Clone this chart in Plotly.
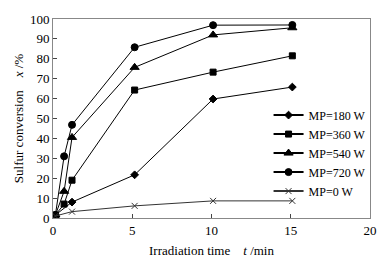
import plotly.graph_objects as go

t_full = [0.15, 0.7, 1.2, 5.15, 10.1, 15.1]
t_short = [0.15, 1.2, 5.15, 10.1, 15.1]

mp180 = [1.5, 8.0, 21.7, 59.8, 65.8]
mp360 = [1.5, 7.0, 19.0, 64.3, 73.3, 81.5]
mp540 = [1.5, 13.4, 40.5, 75.7, 92.0, 95.6]
mp720 = [1.5, 31.0, 46.8, 85.8, 96.9, 97.0]
mp0 = [1.0, 3.2, 6.1, 8.6, 8.6]

series = [
    ("MP=180 W", t_short, mp180, "diamond", 6, "black"),
    ("MP=360 W", t_full, mp360, "square", 6, "black"),
    ("MP=540 W", t_full, mp540, "triangle-up", 8, "black"),
    ("MP=720 W", t_full, mp720, "circle", 7, "black"),
    ("MP=0 W", t_short, mp0, "x-thin-open", 6, "#333333"),
]

FAM = "Liberation Serif, Times New Roman, serif"

fig = go.Figure()
for name, xs, ys, sym, size, col in series:
    fig.add_trace(go.Scatter(
        x=xs, y=ys, name=name, mode="lines+markers", showlegend=False,
        line=dict(color=col, width=1),
        marker=dict(symbol=sym, size=size, color=col, line=dict(color=col, width=1)),
    ))
for name, xs, ys, sym, size, col in series:
    fig.add_trace(go.Scatter(
        x=[None], y=[None], name=name, mode="lines+markers",
        line=dict(color=col, width=2),
        marker=dict(symbol=sym, size=size, color=col, line=dict(color=col, width=1)),
    ))

font = dict(family=FAM, size=13, color="black")
fig.update_layout(
    width=391, height=268,
    margin=dict(l=53, r=21, t=19, b=41),
    paper_bgcolor="white", plot_bgcolor="white",
    font=font,
    showlegend=True,
    legend=dict(x=0.68, y=0.59, xanchor="left", yanchor="top",
                bgcolor="rgba(0,0,0,0)", font=dict(family=FAM, size=12, color="black"),
                tracegroupgap=0, itemwidth=30),
)
fig.update_xaxes(range=[0, 20], tickvals=[0, 5, 10, 15, 20], ticks="inside", ticklen=4,
                 showline=True, linecolor="#888888", linewidth=1, mirror=True,
                 showgrid=False, zeroline=False, tickfont=dict(family=FAM, size=13, color="black"),
                 title=dict(text="Irradiation time    <i>t</i> /min", standoff=9,
                            font=dict(family=FAM, size=13, color="black")))
fig.update_yaxes(range=[0, 100], tickvals=list(range(0, 101, 10)), ticks="inside", ticklen=4,
                 showline=True, linecolor="#888888", linewidth=1, mirror=True,
                 showgrid=False, zeroline=False, tickfont=dict(family=FAM, size=13, color="black"),
                 title=dict(text="Sulfur conversion    <i>x</i> /%", standoff=3,
                            font=dict(family=FAM, size=13, color="black")))
fig.write_html("out.html", config={"displayModeBar": False},
               post_script="document.body.style.margin='0';")
